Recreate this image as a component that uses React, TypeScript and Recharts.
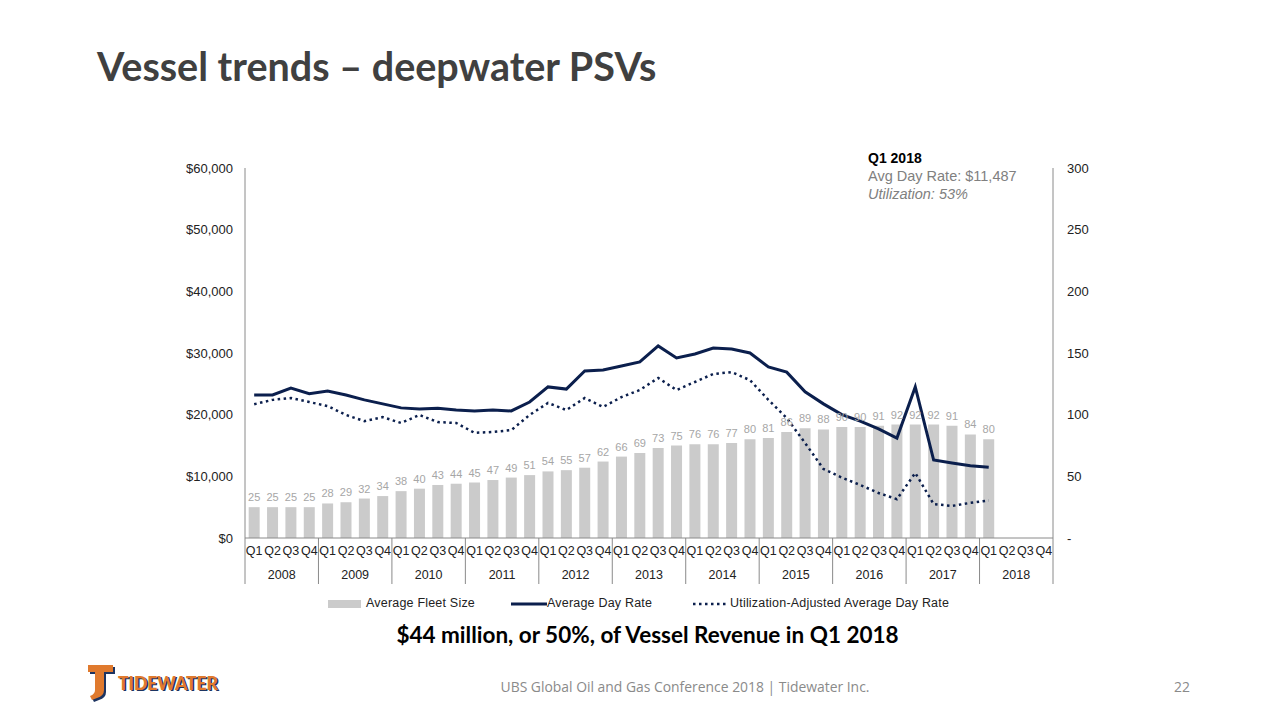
import { ComposedChart, Bar, Line, XAxis, YAxis, LabelList, Legend } from 'recharts'

const quarters = ['Q1', 'Q2', 'Q3', 'Q4']
const years = ['2008', '2009', '2010', '2011', '2012', '2013', '2014', '2015', '2016', '2017', '2018']

// Q1 2008 .. Q1 2018
const fleetSize = [
  25, 25, 25, 25, 28, 29, 32, 34, 38, 40, 43, 44, 45, 47, 49, 51, 54, 55, 57, 62, 66, 69, 73, 75, 76, 76, 77, 80, 81,
  86, 89, 88, 90, 90, 91, 92, 92, 92, 91, 84, 80,
]
const avgDayRate = [
  23200, 23200, 24300, 23400, 23850, 23200, 22400, 21750, 21100, 20900, 21050, 20750, 20600, 20750, 20600, 22050,
  24500, 24150, 27100, 27250, 27900, 28550, 31150, 29200, 29850, 30800, 30650, 30000, 27750, 26900, 23700, 21750,
  20000, 18950, 17700, 16200, 24500, 12650, 12150, 11700, 11487,
]
const utilAdjRate = [
  21700, 22400, 22700, 22050, 21400, 19950, 18950, 19600, 18650, 19950, 18800, 18650, 17050, 17200, 17500, 19950,
  21900, 20750, 22700, 21250, 22850, 24000, 25950, 24000, 25300, 26600, 26900, 25600, 22400, 19450, 15400, 11200,
  9800, 8600, 7300, 6300, 10550, 5500, 5200, 5700, 6090,
]

const leftTicks = [0, 10000, 20000, 30000, 40000, 50000, 60000]
const rightTicks = [0, 50, 100, 150, 200, 250, 300]

const data = years.flatMap((y, yi) =>
  quarters.map((q, qi) => {
    const i = yi * 4 + qi
    return {
      q,
      year: y,
      fleet: fleetSize[i] ?? null,
      rate: avgDayRate[i] ?? null,
      adj: utilAdjRate[i] ?? null,
    }
  })
)

const NAVY = '#0b1f4d'
const BAR = '#cbcbcb'
const AXIS = '#8a8a8a'
const FONT = '"Liberation Sans", Arial, sans-serif'

const PLOT_LEFT = 245
const PLOT_RIGHT = 1053
const PLOT_TOP = 168
const PLOT_BOTTOM = 538
const BAND = (PLOT_RIGHT - PLOT_LEFT) / data.length

function QuarterTick(props: any) {
  const { x, y, payload } = props
  const i = payload.index
  const yr = data[i]?.year
  return (
    <g>
      <text x={x} y={y + 17} textAnchor="middle" fontSize={12.5} fill="#222" fontFamily={FONT}>
        {payload.value}
      </text>
      {i % 4 === 0 && (
        <>
          <line x1={x - BAND / 2} x2={x - BAND / 2} y1={y} y2={y + 46} stroke={AXIS} />
          <text x={x + BAND * 1.5} y={y + 41} textAnchor="middle" fontSize={12.5} fill="#222" fontFamily={FONT}>
            {yr}
          </text>
        </>
      )}
      {i === data.length - 1 && <line x1={x + BAND / 2} x2={x + BAND / 2} y1={y} y2={y + 46} stroke={AXIS} />}
    </g>
  )
}

function ChartLegend() {
  const txt = { position: 'absolute' as const, top: 0, fontSize: 12.5, letterSpacing: 0.2, color: '#222', fontFamily: FONT, whiteSpace: 'nowrap' as const }
  return (
    <div style={{ position: 'relative', height: 16 }}>
      <span style={{ position: 'absolute', left: 328, top: 4, width: 33, height: 8, background: BAR }} />
      <span style={{ ...txt, left: 366 }}>Average Fleet Size</span>
      <svg width={40} height={8} style={{ position: 'absolute', left: 511, top: 4 }}>
        <line x1={0} x2={36} y1={4} y2={4} stroke={NAVY} strokeWidth={3} />
      </svg>
      <span style={{ ...txt, left: 547 }}>Average Day Rate</span>
      <svg width={40} height={8} style={{ position: 'absolute', left: 692, top: 4 }}>
        <line x1={1} x2={34} y1={4} y2={4} stroke={NAVY} strokeWidth={2.5} strokeDasharray="2.5 3.5" />
      </svg>
      <span style={{ ...txt, left: 730 }}>Utilization-Adjusted Average Day Rate</span>
    </div>
  )
}

function Logo() {
  return (
    <svg width={160} height={44} style={{ position: 'absolute', left: 84, top: 661 }}>
      <path d="M6 6 H31 V13 H22 V31 Q22 37 15 39 L10 41 L8 37 Q13 35 13 31 V13 H6 Z" fill="#1d3461" />
      <path d="M4 4 H29 V11 H20 V29 Q20 35 13 37 L8 39 L6 35 Q11 33 11 29 V11 H4 Z" fill="#e07a2e" />
      <text x={35.5} y={30} fontFamily="Lato, sans-serif" fontWeight={900} fontSize={18} fill="#1d3461" textLength={100} lengthAdjust="spacingAndGlyphs">
        TIDEWATER
      </text>
      <text x={34} y={28.5} fontFamily="Lato, sans-serif" fontWeight={900} fontSize={18} fill="#e07a2e" textLength={100} lengthAdjust="spacingAndGlyphs">
        TIDEWATER
      </text>
    </svg>
  )
}

export default function App() {
  return (
    <div style={{ position: 'fixed', left: 0, top: 0, width: 1280, height: 720, background: '#fff', overflow: 'hidden' }}>
      <div
        style={{
          position: 'absolute',
          left: 97,
          top: 42,
          fontFamily: 'Lato, sans-serif',
          fontWeight: 700,
          fontSize: 39.5,
          color: '#404040',
          whiteSpace: 'nowrap',
        }}
      >
        Vessel trends – deepwater PSVs
      </div>

      <div style={{ position: 'absolute', left: 0, top: 0 }}>
        <ComposedChart
          width={1280}
          height={720}
          data={data}
          margin={{ top: PLOT_TOP, right: 1280 - PLOT_RIGHT - 50, bottom: 720 - PLOT_BOTTOM - 50, left: PLOT_LEFT - 80 }}
          barCategoryGap="20%"
        >
          <XAxis
            dataKey="q"
            interval={0}
            height={50}
            tick={<QuarterTick />}
            tickLine={false}
            tickSize={0}
            tickMargin={0}
            axisLine={{ stroke: AXIS }}
          />
          <YAxis
            yAxisId="left"
            width={80}
            domain={[0, 60000]}
            ticks={leftTicks}
            tickFormatter={(v: number) => '$' + v.toLocaleString('en-US')}
            tickLine={false}
            tickMargin={6}
            axisLine={{ stroke: AXIS }}
            tick={{ fontSize: 13, fill: '#222', fontFamily: FONT }}
          />
          <YAxis
            yAxisId="right"
            orientation="right"
            width={50}
            domain={[0, 300]}
            ticks={rightTicks}
            tickFormatter={(v: number) => (v === 0 ? '-' : String(v))}
            tickLine={false}
            tickMargin={8}
            axisLine={{ stroke: AXIS }}
            tick={{ fontSize: 13, fill: '#222', fontFamily: FONT }}
          />
          <Legend
            layout="horizontal"
            verticalAlign="middle"
            align="center"
            content={<ChartLegend />}
            wrapperStyle={{ top: 596, left: 0, width: 1280 }}
          />
          <Bar yAxisId="right" dataKey="fleet" fill={BAR} isAnimationActive={false}>
            <LabelList dataKey="fleet" position="top" offset={6} fontSize={11} fill="#a6a6a6" fontFamily={FONT} />
          </Bar>
          <Line
            yAxisId="left"
            type="linear"
            dataKey="rate"
            stroke={NAVY}
            strokeWidth={3}
            dot={false}
            isAnimationActive={false}
          />
          <Line
            yAxisId="left"
            type="linear"
            dataKey="adj"
            stroke={NAVY}
            strokeWidth={2.5}
            strokeDasharray="2.5 3.5"
            dot={false}
            isAnimationActive={false}
          />
        </ComposedChart>
      </div>

      <div style={{ position: 'absolute', left: 868, top: 149, fontFamily: FONT, lineHeight: '18px', whiteSpace: 'nowrap' }}>
        <div style={{ fontWeight: 700, fontSize: 14, color: '#000' }}>Q1 2018</div>
        <div style={{ fontSize: 14.5, color: '#808080' }}>Avg Day Rate: $11,487</div>
        <div style={{ fontSize: 14.5, color: '#808080', fontStyle: 'italic' }}>Utilization: 53%</div>
      </div>

      <div
        style={{
          position: 'absolute',
          left: 0,
          width: 1295,
          top: 621,
          textAlign: 'center',
          fontFamily: 'Lato, sans-serif',
          fontWeight: 700,
          fontSize: 22.5,
          color: '#000',
          whiteSpace: 'nowrap',
        }}
      >
        $44 million, or 50%, of Vessel Revenue in Q1 2018
      </div>

      <Logo />

      <div
        style={{
          position: 'absolute',
          left: 0,
          width: 1370,
          top: 677,
          textAlign: 'center',
          fontFamily: '"Open Sans", sans-serif',
          fontSize: 13.9,
          color: '#8a8a8a',
          whiteSpace: 'nowrap',
        }}
      >
        UBS Global Oil and Gas Conference 2018 | Tidewater Inc.
      </div>
      <div style={{ position: 'absolute', left: 1174, top: 677, fontFamily: '"Open Sans", sans-serif', fontSize: 13.9, color: '#8a8a8a' }}>
        22
      </div>
    </div>
  )
}
